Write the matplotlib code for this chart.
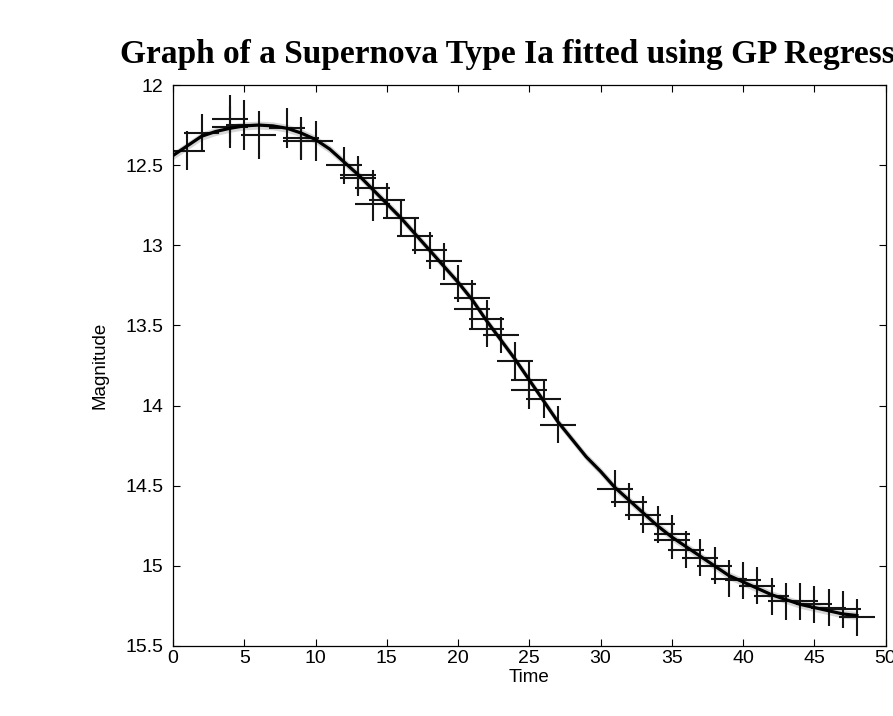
import matplotlib
matplotlib.use("Agg")
import matplotlib.pyplot as plt
from matplotlib.ticker import FuncFormatter

# observations (time in days, magnitude, vertical error)
obs_t = [1, 2, 4, 4, 5, 6, 8, 9, 9, 10, 12, 13, 13, 14, 14, 15, 16, 17, 18, 19, 20,
         21, 21, 22, 22, 23, 24, 25, 25, 26, 27, 31, 32, 33, 34, 35, 35, 36, 37, 38,
         39, 40, 41, 42, 43, 44, 45, 46, 47, 48]
obs_mag = [12.41, 12.30, 12.21, 12.26, 12.25, 12.31, 12.27, 12.33, 12.35, 12.35,
           12.50, 12.56, 12.58, 12.64, 12.74, 12.72, 12.83, 12.94, 13.03, 13.10, 13.24,
           13.33, 13.40, 13.46, 13.52, 13.56, 13.72, 13.84, 13.90, 13.96, 14.12,
           14.52, 14.60, 14.68, 14.74, 14.80, 14.84, 14.90, 14.95, 15.00,
           15.08, 15.09, 15.125, 15.19, 15.22, 15.22, 15.24, 15.26, 15.27, 15.32]
obs_err = [0.12, 0.12, 0.15, 0.13, 0.155, 0.15, 0.125, 0.13, 0.12, 0.125,
           0.115, 0.115, 0.11, 0.11, 0.11, 0.11, 0.115, 0.115, 0.115, 0.115, 0.115,
           0.115, 0.115, 0.12, 0.115, 0.115, 0.115, 0.12, 0.12, 0.115, 0.115,
           0.115, 0.115, 0.115, 0.115, 0.115, 0.115, 0.115, 0.115, 0.115,
           0.115, 0.115, 0.115, 0.115, 0.115, 0.115, 0.115, 0.115, 0.115, 0.115]
time_err = 1.25

fit_t = list(range(0, 49))
fit_mag = [12.44, 12.38, 12.32, 12.29, 12.27, 12.255, 12.25, 12.255, 12.27, 12.30,
           12.34, 12.40, 12.48, 12.56, 12.65, 12.74, 12.83, 12.93, 13.03, 13.13,
           13.23, 13.34, 13.47, 13.59, 13.71, 13.84, 13.97, 14.10, 14.21, 14.32,
           14.41, 14.51, 14.59, 14.67, 14.75, 14.82, 14.88, 14.94, 15.00, 15.06,
           15.10, 15.14, 15.18, 15.21, 15.24, 15.26, 15.28, 15.30, 15.31]
fit_sd = 0.025

fig = plt.figure(figsize=(8.93, 7.16), dpi=100)
ax = fig.add_axes([173 / 893, 70 / 716, 712.5 / 893, 561 / 716])

lower = [m - fit_sd for m in fit_mag]
upper = [m + fit_sd for m in fit_mag]
ax.fill_between(fit_t, lower, upper, color="#d6d6d6", lw=0, zorder=1)
ax.errorbar(obs_t, obs_mag, xerr=time_err, yerr=obs_err, fmt="none",
            ecolor="#151515", elinewidth=1.5, capsize=0, zorder=2)
ax.plot(fit_t, fit_mag, color="black", linewidth=2.3, zorder=3)

ax.set_xlim(0, 50)
ax.set_ylim(15.5, 12)
ax.set_xticks(range(0, 51, 5))
ax.set_yticks([12 + 0.5 * i for i in range(8)])
ax.yaxis.set_major_formatter(FuncFormatter(lambda v, p: "%g" % v))
ax.tick_params(direction="in", length=5, width=0.8, top=True, right=True,
               labelsize=14, pad=7)
ax.tick_params(axis="x", pad=3)
for lab in ax.get_xticklabels() + ax.get_yticklabels():
    lab.set_family("Liberation Sans")
for s in ax.spines.values():
    s.set_linewidth(0.9)

ax.set_xlabel("Time", fontsize=13.5, family="Liberation Sans", labelpad=1)
ax.set_ylabel("Magnitude", fontsize=13.5, family="Liberation Sans", labelpad=12)
ax.set_title("Graph of a Supernova Type Ia fitted using GP Regression",
             fontsize=24, fontweight="bold", family="Liberation Serif", pad=16)

fig.savefig("out.png", dpi=100)
